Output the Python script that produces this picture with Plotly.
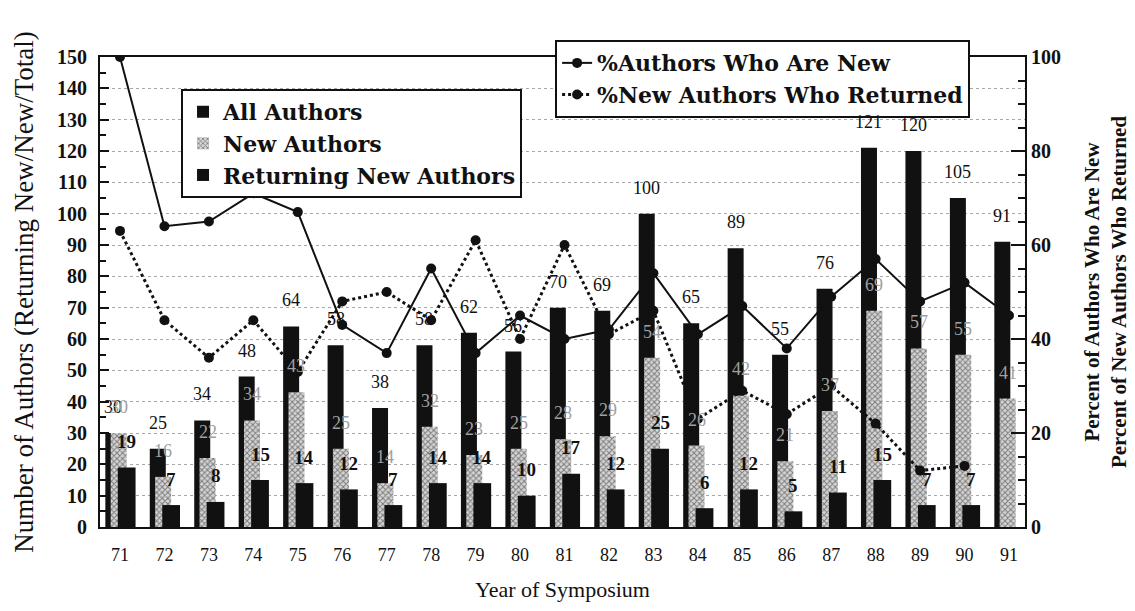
import plotly.graph_objects as go

years = [71, 72, 73, 74, 75, 76, 77, 78, 79, 80, 81, 82, 83, 84, 85, 86, 87, 88, 89, 90, 91]
all_authors = [30, 25, 34, 48, 64, 58, 38, 58, 62, 56, 70, 69, 100, 65, 89, 55, 76, 121, 120, 105, 91]
new_authors = [30, 16, 22, 34, 43, 25, 14, 32, 23, 25, 28, 29, 54, 26, 42, 21, 37, 69, 57, 55, 41]
returning_new = [19, 7, 8, 15, 14, 12, 7, 14, 14, 10, 17, 12, 25, 6, 12, 5, 11, 15, 7, 7, None]
pct_new = [100, 64, 65, 71, 67, 43, 37, 55, 37, 45, 40, 42, 54, 41, 47, 38, 49, 57, 48, 52, 45]
pct_returned = [63, 44, 36, 44, 33, 48, 50, 44, 61, 40, 60, 41, 46, 23, 29, 24, 30, 22, 12, 13, None]

SERIF = "Liberation Serif"
WIDE_SERIF = "DejaVu Serif"
PX_PER_YEAR = 44.4

bar_specs = [
    # name, values, offset, width, label colour, label weight, label size
    ("All Authors", all_authors, -0.33, 0.36, "#111111", "normal", 18),
    ("New Authors", new_authors, -0.21, 0.36, "#a0a0a0", "normal", 18),
    ("Returning New Authors", returning_new, -0.05, 0.40, "#111111", "bold", 19),
]

fig = go.Figure()

for name, vals, off, wid, _, _, _ in bar_specs:
    if name == "New Authors":
        marker = dict(color="#bdbdbd",
                      pattern=dict(shape="x", fgcolor="#222222", bgcolor="#d6d6d6",
                                   size=4, solidity=0.45),
                      line=dict(width=0))
    else:
        marker = dict(color="#111111", line=dict(width=0))
    fig.add_trace(go.Bar(x=years, y=vals, name=name, offset=off, width=wid,
                         marker=marker, opacity=1, legend="legend"))

fig.add_trace(go.Scatter(x=years, y=pct_new, yaxis="y2", name="%Authors Who Are New",
                         mode="lines+markers",
                         line=dict(color="#111111", width=2),
                         marker=dict(color="#111111", size=10),
                         legend="legend2"))
fig.add_trace(go.Scatter(x=years, y=pct_returned, yaxis="y2", name="%New Authors Who Returned",
                         mode="lines+markers",
                         line=dict(color="#111111", width=3, dash="dot"),
                         marker=dict(color="#111111", size=10),
                         legend="legend2"))

annotations = []
for name, vals, off, wid, col, weight, size in bar_specs:
    center_px = (off + wid / 2) * PX_PER_YEAR
    for yr, v in zip(years, vals):
        if v is None:
            continue
        annotations.append(dict(x=yr, y=v, xref="x", yref="y", text=str(v),
                                showarrow=False, xshift=center_px, yshift=26,
                                yanchor="middle",
                                font=dict(family=SERIF, size=size, color=col, weight=weight)))

fig.update_layout(
    width=1127, height=603,
    margin=dict(l=92, r=110, t=49, b=84, autoexpand=False),
    paper_bgcolor="white", plot_bgcolor="white",
    barmode="overlay",
    font=dict(family=SERIF, color="#111111"),
    annotations=annotations,
    xaxis=dict(range=[70.55, 91.36], tickvals=years, ticktext=[str(y) for y in years],
               showline=True, linewidth=2, linecolor="#111111", mirror=True,
               showgrid=False, zeroline=False, ticks="", ticklabelstandoff=10,
               automargin=False,
               tickfont=dict(family=SERIF, size=18),
               title=dict(text="Year of Symposium", font=dict(family=SERIF, size=22),
                          standoff=18)),
    yaxis=dict(range=[0, 150], dtick=10, tick0=0,
               showline=True, linewidth=2, linecolor="#111111",
               ticks="inside", ticklen=9, tickwidth=1.5, tickcolor="#111111",
               minor=dict(dtick=5, ticks="inside", ticklen=6, tickwidth=1.5, tickcolor="#111111"),
               showgrid=True, gridcolor="#a8a8a8", griddash="dot", gridwidth=1,
               zeroline=False, ticklabelstandoff=7, automargin=False,
               tickfont=dict(family=SERIF, size=20, weight="bold"),
               title=dict(text="Number of Authors (Returning New/New/Total)",
                          font=dict(family=SERIF, size=27), standoff=16)),
    yaxis2=dict(range=[0, 100], dtick=20, tick0=0, overlaying="y", side="right",
                showline=True, linewidth=2, linecolor="#111111",
                ticks="inside", ticklen=14, tickwidth=1.5, tickcolor="#111111",
                minor=dict(dtick=5, ticks="inside", ticklen=7, tickwidth=1.5, tickcolor="#111111"),
                showgrid=False, zeroline=False, automargin=False,
                tickfont=dict(family=SERIF, size=20, weight="bold"),
                title=dict(text="Percent of Authors Who Are New<br>Percent of New Authors Who Returned",
                           font=dict(family=SERIF, size=21, weight="bold"), standoff=24)),
    legend=dict(x=0.0876, y=0.932, xanchor="left", yanchor="top",
                bgcolor="white", bordercolor="#111111", borderwidth=2,
                font=dict(family=WIDE_SERIF, size=22, weight="bold"),
                itemwidth=30, tracegroupgap=0),
    legend2=dict(x=0.492, y=1.036, xanchor="left", yanchor="top",
                 bgcolor="white", bordercolor="#111111", borderwidth=2,
                 font=dict(family=WIDE_SERIF, size=22, weight="bold"),
                 itemwidth=30, tracegroupgap=0),
)

fig.write_html("out.html")
